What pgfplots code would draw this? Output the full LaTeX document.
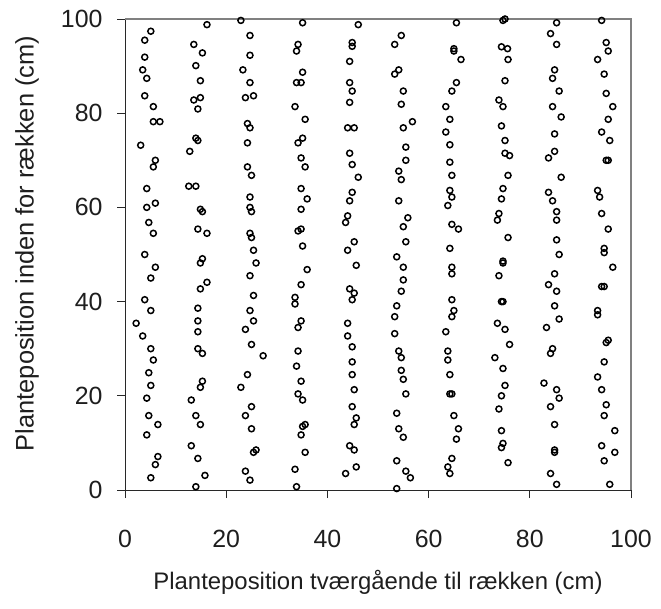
\documentclass[border=0pt]{standalone}
\usepackage{fontspec}
\setmainfont{Liberation Sans}
\usepackage{pgfplots}
\usepackage{pgfplotstable}
\pgfplotsset{compat=1.18}

\definecolor{axisdark}{RGB}{40,40,40}
\definecolor{framegray}{RGB}{128,128,128}
\definecolor{labelgray}{RGB}{30,30,30}

% Plant positions: across the row (x) and along the row (y), in cm
\pgfplotstableread{
x y
5.1 97.4
3.9 95.5
3.9 91.9
3.5 89.2
4.3 87.4
3.9 83.7
5.6 81.4
5.6 78.2
6.9 78.2
3.1 73.2
6.0 70.0
5.6 68.6
4.3 64.0
6.0 60.9
4.3 60.0
4.7 56.8
5.6 54.5
3.9 50.0
6.0 47.3
5.1 45.0
3.9 40.4
5.1 38.1
2.2 35.4
3.5 32.7
5.1 30.0
5.6 27.6
4.7 24.9
5.1 22.2
4.3 19.5
4.7 15.8
6.5 13.9
4.3 11.7
6.5 7.1
6.0 5.4
5.1 2.6
16.2 98.8
13.6 94.6
15.3 92.8
14.0 90.1
14.9 86.9
13.6 82.8
14.9 83.3
14.4 80.9
14.0 74.7
14.4 74.2
12.8 71.9
12.6 64.5
14.0 64.5
14.9 59.6
15.3 59.1
14.4 55.4
16.2 54.5
15.3 49.1
14.9 48.2
16.2 44.1
14.9 42.7
14.4 38.6
14.4 35.9
14.4 33.6
14.4 30.0
15.3 29.0
15.3 23.1
14.9 21.8
13.1 19.1
14.0 15.8
14.9 13.9
13.1 9.4
14.4 6.7
15.8 3.1
14.0 0.7
22.9 99.7
24.7 96.5
24.7 92.3
23.3 89.2
24.7 86.5
23.8 83.3
25.4 83.7
24.2 77.8
24.7 76.9
24.2 73.7
24.2 68.6
25.0 66.8
24.7 62.2
24.7 60.0
25.0 59.1
24.7 54.5
25.0 53.6
25.4 50.9
25.9 48.2
24.7 45.5
25.4 41.3
24.7 38.1
25.4 35.9
23.8 34.1
25.0 30.9
27.3 28.5
24.2 24.5
22.9 21.8
25.0 17.7
23.8 15.8
25.0 13.0
25.4 8.0
25.9 8.5
23.8 4.0
24.7 2.1
35.1 99.2
34.2 94.6
33.9 93.2
35.1 88.7
33.9 86.5
34.8 86.5
33.6 81.4
35.6 78.7
35.1 74.7
34.2 73.7
34.8 70.5
35.6 68.6
34.8 64.0
36.0 61.8
34.8 59.6
34.2 55.0
34.8 55.4
35.1 51.8
36.0 46.8
34.8 43.6
33.6 40.9
33.6 39.5
34.8 35.9
34.2 34.5
34.2 29.5
33.9 26.3
34.8 23.1
34.2 20.4
35.1 19.1
35.6 13.9
35.1 13.5
34.8 11.7
35.6 8.0
33.6 4.4
33.9 0.7
46.1 98.8
44.9 95.0
44.9 94.2
44.4 91.0
44.4 86.5
44.9 84.7
44.4 82.3
44.0 76.9
45.3 76.9
44.4 71.5
44.9 69.1
46.1 66.4
44.9 63.2
44.4 61.4
44.0 58.2
43.6 56.8
45.3 52.7
44.0 50.9
45.7 47.7
44.4 42.7
45.3 41.8
44.9 40.4
44.0 35.4
44.0 32.7
44.9 30.4
44.9 27.2
44.9 24.5
45.3 21.3
44.9 17.7
45.7 15.3
45.3 13.9
44.4 9.4
45.3 8.5
45.7 4.9
43.6 3.5
54.6 96.5
53.3 94.6
54.1 89.2
53.3 88.3
55.0 84.7
54.6 81.9
56.8 78.2
55.0 76.9
55.5 72.8
55.5 70.0
54.1 67.7
54.6 65.9
54.1 61.4
55.9 57.8
55.0 55.9
55.5 52.7
53.7 49.5
55.0 47.3
55.0 44.6
54.6 42.2
53.7 39.1
53.3 36.8
53.3 33.2
54.1 29.5
54.6 28.1
54.6 25.4
55.0 23.5
55.5 20.4
53.7 16.3
54.1 13.0
55.0 11.2
53.7 6.2
55.5 4.0
56.4 2.6
53.7 0.3
65.5 99.2
65.0 93.7
65.0 93.2
66.4 91.4
65.5 86.5
64.6 84.7
63.4 81.4
64.2 78.7
63.4 76.0
64.2 73.3
64.2 69.6
64.6 66.8
64.2 63.6
64.6 62.2
63.8 60.4
64.6 56.4
65.9 55.4
64.2 51.3
64.6 47.3
64.6 45.9
64.6 40.4
65.0 38.1
64.6 36.8
63.4 33.6
63.8 29.5
63.8 27.6
64.2 24.5
64.2 20.4
64.6 20.4
65.0 15.8
65.9 13.0
65.5 10.8
64.6 6.7
63.8 4.9
64.2 3.5
74.7 99.7
75.1 100.0
74.4 94.1
75.6 93.7
75.7 91.4
75.1 86.9
73.9 82.8
74.7 81.4
74.4 77.3
75.1 74.2
75.1 71.5
76.0 71.0
75.7 66.8
74.7 64.0
74.4 61.8
73.9 58.7
73.6 57.3
75.7 53.6
74.7 48.6
74.7 48.2
73.9 45.5
74.4 40.0
74.7 40.0
73.6 35.4
75.1 34.1
76.0 30.9
73.1 28.1
74.7 25.8
75.1 22.2
74.4 20.0
73.9 17.2
74.4 12.6
74.7 9.9
74.4 9.0
75.7 5.8
85.3 99.2
84.1 96.9
85.3 94.6
84.9 89.2
84.5 87.4
85.8 84.7
84.5 81.4
86.2 79.2
84.9 75.6
84.9 71.9
83.7 70.5
86.2 66.4
83.7 63.2
84.5 61.4
85.3 59.1
85.3 57.3
85.3 53.1
85.8 50.0
84.9 45.9
83.7 43.6
85.3 42.2
84.9 39.1
85.8 36.3
83.3 34.5
84.5 30.0
84.1 29.0
82.8 22.7
85.3 21.3
85.8 19.5
84.1 17.7
84.9 13.9
84.9 8.5
84.9 8.0
84.1 3.5
85.3 1.2
94.2 99.7
95.1 95.0
95.5 93.2
93.4 91.4
94.7 88.3
95.1 84.2
96.4 81.4
95.5 78.7
94.2 76.0
95.8 74.2
95.1 70.0
95.5 70.0
93.4 63.6
93.8 62.2
94.2 58.7
95.5 55.4
94.7 51.3
94.7 50.4
96.4 47.3
94.2 43.2
94.7 43.2
93.4 38.1
93.4 37.2
95.5 31.8
95.1 31.3
94.7 27.2
93.4 24.0
94.2 21.3
95.1 18.1
94.7 15.8
96.8 12.6
94.2 9.4
96.8 8.0
94.7 6.2
95.8 1.2
}\plants

\begin{document}
\begin{tikzpicture}
\useasboundingbox (-125bp,-119bp) rectangle (536bp,490bp);
\begin{axis}[
  scale only axis,
  width=506bp, height=471bp,
  xmin=0, xmax=100, ymin=0, ymax=100,
  xtick={0,20,...,100}, ytick={0,20,...,100},
  axis lines=left,
  axis line style={-, draw=axisdark, line width=0.9bp},
  tick style={draw=axisdark, line width=0.9bp},
  tick align=outside,
  major tick length=8bp,
  /pgf/number format/assume math mode=true,
  tick label style={font=\fontsize{25}{29}\selectfont, text=labelgray},
  xticklabel style={yshift=-29bp},
  yticklabel style={xshift=-11bp},
  xlabel={Planteposition tværgående til rækken (cm)},
  ylabel={Planteposition inden for rækken (cm)},
  every axis x label/.style={at={(rel axis cs:0.5,0)}, anchor=center, yshift=-92bp,
    font=\fontsize{24}{28}\selectfont, text=labelgray},
  every axis y label/.style={at={(rel axis cs:0,0.5)}, anchor=center, rotate=90,
    xshift=11bp, yshift=98bp, font=\fontsize{25.5}{30}\selectfont, text=labelgray},
  clip=false,
]
\draw[framegray, line width=1.2bp] (rel axis cs:0,1) -- (rel axis cs:1,1) -- (rel axis cs:1,0);
\addplot[only marks, mark=o, mark size=3.0bp, mark options={line width=1.5bp, draw=black}]
  table[x=x, y=y] {\plants};
\end{axis}
\end{tikzpicture}
\end{document}
